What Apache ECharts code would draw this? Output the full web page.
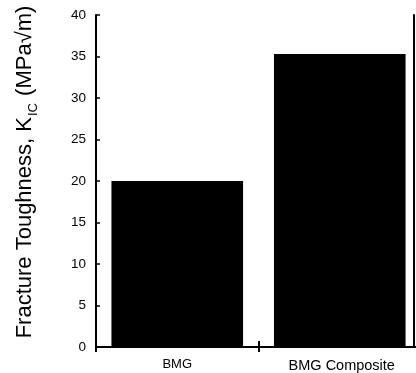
<!DOCTYPE html>
<html><head><meta charset="utf-8">
<script src="https://cdn.jsdelivr.net/npm/echarts@6/dist/echarts.min.js"></script>
<style>html,body{margin:0;padding:0;background:#fff}#c{width:416px;height:373px}</style>
</head><body><div id="c"></div>
<script>
var categories = ['BMG', 'BMG Composite'];
var toughness = [20, 35.3];
var yTicks = [0, 5, 10, 15, 20, 25, 30, 35, 40];

var chart = echarts.init(document.getElementById('c'));
var F = 'Liberation Sans, Arial, sans-serif';
var catData = [
  {value: categories[0], textStyle: {fontSize: 13}},
  {value: categories[1], textStyle: {fontSize: 14.5, padding: [0, 0, 0, 4]}}
];
chart.setOption({
  animation: false,
  backgroundColor: '#fff',
  grid: {left: 96, top: 15, width: 325, height: 332, outerBoundsMode: 'none', containLabel: false},
  xAxis: [{
    type: 'category', data: catData, position: 'bottom',
    axisLine: {lineStyle: {color: '#000', width: 2}},
    axisTick: {show: true, inside: false, length: -6, lineStyle: {color: '#000', width: 2}, interval: 0},
    axisLabel: {color: '#000', fontFamily: F, margin: 11},
    splitLine: {show: false}
  }, {
    type: 'category', data: categories, position: 'top',
    axisLine: {show: true, lineStyle: {color: '#000', width: 2}},
    axisTick: {show: true, inside: false, length: -5, lineStyle: {color: '#000', width: 2}, interval: 0},
    axisLabel: {show: false}
  }],
  yAxis: [{
    type: 'value', min: yTicks[0], max: yTicks[yTicks.length - 1], interval: 5,
    axisLine: {show: true, lineStyle: {color: '#000', width: 2}},
    axisTick: {show: true, inside: false, length: -4, lineStyle: {color: '#000', width: 1.5}},
    axisLabel: {color: '#000', fontSize: 13.5, fontFamily: F, margin: 10},
    splitLine: {show: false},
    name: '{a|Fracture Toughness, K}{b|IC}{a| (MPa\u221Am)}',
    nameLocation: 'middle', nameRotate: 90, nameGap: 58,
    nameTextStyle: {
      color: '#000', fontFamily: F, padding: [0, 0, 0, 18],
      rich: {
        a: {fontSize: 22, fontFamily: F, color: '#000', lineHeight: 24, verticalAlign: 'top'},
        b: {fontSize: 13, fontFamily: F, color: '#000', lineHeight: 13, padding: [13, 1, 0, 1], verticalAlign: 'top'}
      }
    }
  }, {
    type: 'value', min: yTicks[0], max: yTicks[yTicks.length - 1], interval: 5, position: 'right', offset: -7,
    axisLine: {show: true, lineStyle: {color: '#000', width: 2}},
    axisTick: {show: false}, axisLabel: {show: false}, splitLine: {show: false}
  }],
  series: [{
    type: 'bar', data: toughness, barWidth: '81%',
    itemStyle: {color: '#000'}
  }]
});
</script></body></html>
